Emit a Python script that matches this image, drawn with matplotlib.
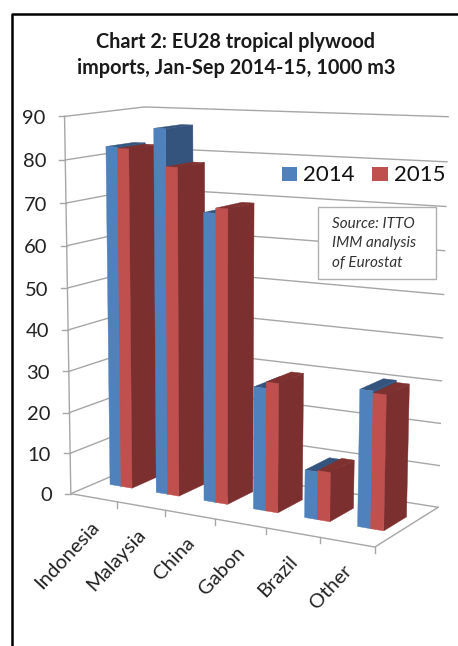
import numpy as np
from matplotlib import pyplot as plt
from matplotlib.patches import Polygon, Rectangle

plt.rcParams['font.family'] = ['Lato', 'DejaVu Sans']

categories = ['Indonesia', 'Malaysia', 'China', 'Gabon', 'Brazil', 'Other']
values_2014 = [82.3, 87, 68.3, 29, 11.2, 31.5]
values_2015 = [82, 78.3, 69.5, 30.5, 11.5, 31]
value_ticks = [0, 10, 20, 30, 40, 50, 60, 70, 80, 90]
series_names = ['2014', '2015']

# chart box in picture pixels: (category, depth, value) -> (px, py)
anchors = [
	((0, 0, 0), (73, 495)),
	((6, 0, 0), (373, 547)),
	((6, 1, 0), (440, 507)),
	((0, 1, 0), (145, 460)),
	((0, 0, 90), (64, 115)),
	((0, 1, 90), (145, 108)),
	((6, 1, 90), (448, 117)),
]


def fitCamera(anchors):
	# plain DLT, least squares over the box corners
	rows = []
	for (c, d, v), (px, py) in anchors:
		rows.append([c, d, v, 1, 0, 0, 0, 0, -px*c, -px*d, -px*v, -px])
		rows.append([0, 0, 0, 0, c, d, v, 1, -py*c, -py*d, -py*v, -py])
	_, _, Vt = np.linalg.svd(np.array(rows, dtype=float))
	return Vt[-1].reshape(3, 4)


P = fitCamera(anchors)


def proj(c, d, v):
	q = P.dot([c, d, v, 1])
	return (q[0]/q[2], q[1]/q[2])


def drawBar(ax, c0, c1, d0, d1, v, front, side, top, z):
	faces = [
		([(c1, d0, 0), (c1, d1, 0), (c1, d1, v), (c1, d0, v)], side),
		([(c0, d0, v), (c1, d0, v), (c1, d1, v), (c0, d1, v)], top),
		([(c0, d0, 0), (c1, d0, 0), (c1, d0, v), (c0, d0, v)], front),
	]
	for pts, col in faces:
		xy = [proj(*p) for p in pts]
		ax.add_patch(Polygon(xy, closed=True, facecolor=col, edgecolor=col, lw=0.3, zorder=z))


fig = plt.figure(figsize=(4.58, 6.46), dpi=100)
ax = fig.add_axes([0, 0, 1, 1])
ax.set_xlim(0, 458)
ax.set_ylim(646, 0)
ax.axis('off')

# outer frame, only top and left show up
ax.plot([11.5, 11.5, 458], [646, 13.5, 13.5], color='black', lw=1.8, zorder=1)

ax.text(236, 42, 'Chart 2: EU28 tropical plywood', ha='center', va='center',
		fontsize=14.3, fontweight='bold', color='#1a1a1a')
ax.text(236, 68, 'imports, Jan-Sep 2014-15, 1000 m3', ha='center', va='center',
		fontsize=14.3, fontweight='bold', color='#1a1a1a')

grid = '#a6a6a6'
for v in value_ticks:
	pts = [proj(0, 0, v), proj(0, 1, v), proj(6, 1, v)]
	ax.plot([p[0] for p in pts], [p[1] for p in pts], color=grid, lw=1, zorder=2)
	x0, y0 = proj(0, 0, v)
	ax.plot([x0-6, x0], [y0, y0], color=grid, lw=1, zorder=2)
	ax.text(x0-19, y0+2, str(v), ha='right', va='center', fontsize=14.5, color='#222222')

pts = [proj(0, 0, 90), proj(0, 0, 0), proj(6, 0, 0), proj(6, 1, 0)]
ax.plot([p[0] for p in pts], [p[1] for p in pts], color=grid, lw=1, zorder=2)

for i, name in enumerate(categories):
	x0, y0 = proj(i+1, 0, 0)
	ax.plot([x0, x0], [y0, y0+6], color=grid, lw=1, zorder=2)
	xc, yc = proj(i+0.5, 0, 0)
	ax.text(xc+2, yc+26, name, rotation=47, rotation_mode='anchor', ha='right', va='center',
			fontsize=14.5, color='#222222')

# left to right so the next bar covers the side of the one before
z = 3
for i in range(len(categories)):
	drawBar(ax, i+0.28, i+0.52, 1/3, 0.69, values_2014[i], '#4f81bd', '#34537d', '#34537d', z)
	z += 1
	drawBar(ax, i+0.52, i+0.76, 1/3, 0.69, values_2015[i], '#c0504d', '#7b2f2e', '#7f3130', z)
	z += 1

# legend
ax.add_patch(Rectangle((282, 167), 15, 14, facecolor='#4f81bd', edgecolor='none', zorder=30))
ax.text(303, 175, series_names[0], ha='left', va='center', fontsize=16, color='#111111', zorder=30)
ax.add_patch(Rectangle((372, 167), 16, 14, facecolor='#c0504d', edgecolor='none', zorder=30))
ax.text(394, 175, series_names[1], ha='left', va='center', fontsize=16, color='#111111', zorder=30)

# source box
ax.add_patch(Rectangle((318, 207), 118, 72, facecolor='white', edgecolor='#b0b0b0', lw=1, zorder=30))
for y, line in zip([224, 243, 263], ['Source: ITTO', 'IMM analysis', 'of Eurostat']):
	ax.text(332, y, line, ha='left', va='center', fontsize=11, style='italic', color='#333333', zorder=31)

fig.savefig('out.png', dpi=100)
